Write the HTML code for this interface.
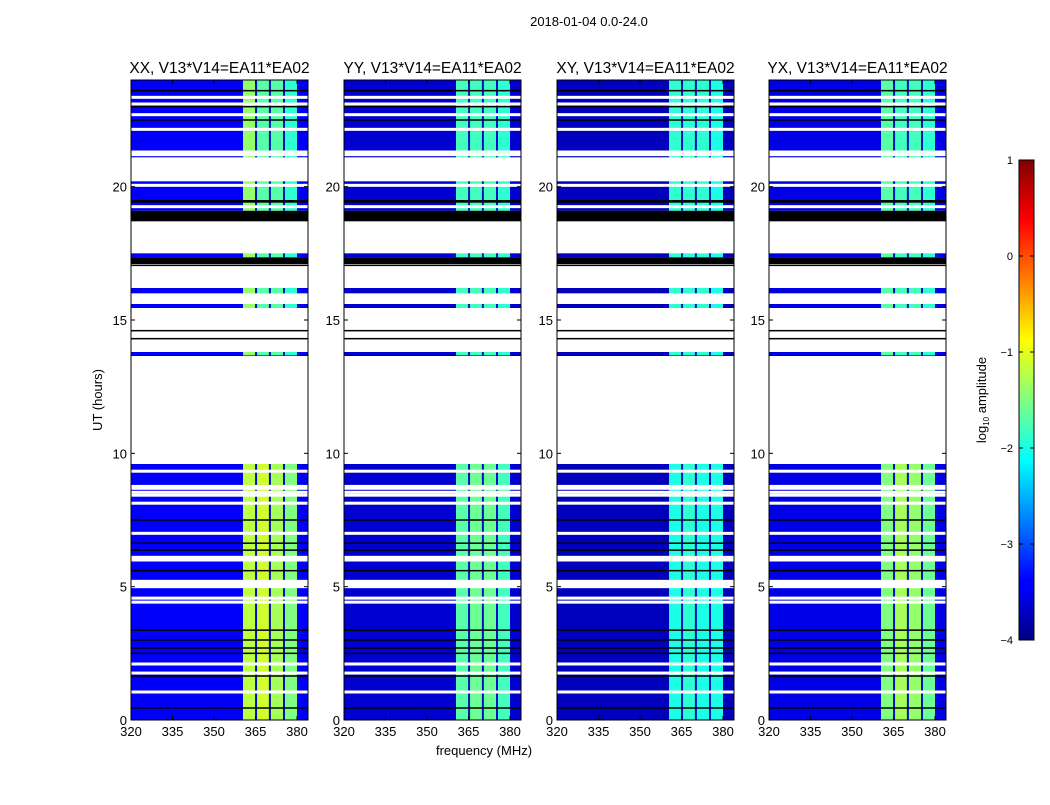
<!DOCTYPE html>
<html><head><meta charset="utf-8"><style>
body{margin:0;background:#fff;}
svg text{font-family:"Liberation Sans",sans-serif;fill:#000;}
</style></head><body>
<svg id="fig" width="1050" height="800" xmlns="http://www.w3.org/2000/svg">
<defs>
<linearGradient id="jet" x1="0" y1="1" x2="0" y2="0">
<stop offset="0" stop-color="#000080"/><stop offset="0.11" stop-color="#0000ff"/>
<stop offset="0.125" stop-color="#0000ff"/><stop offset="0.375" stop-color="#00ffff"/>
<stop offset="0.625" stop-color="#ffff00"/><stop offset="0.875" stop-color="#ff0000"/>
<stop offset="1" stop-color="#800000"/></linearGradient>
</defs>
<text x="589" y="26" font-size="13" text-anchor="middle">2018-01-04 0.0-24.0</text>
<text x="484" y="755" font-size="13" text-anchor="middle">frequency (MHz)</text>
<text transform="translate(102,400) rotate(-90)" font-size="13" text-anchor="middle">UT (hours)</text>
<g id="panels"></g>
<g>
<rect x="1019" y="160" width="15" height="480" fill="url(#jet)" stroke="#000" stroke-width="1"/>
<g id="cbticks"></g>
<text transform="translate(986,400) rotate(-90)" font-size="13" text-anchor="middle">log<tspan font-size="8" dy="3">10</tspan><tspan dy="-3"> amplitude</tspan></text>
</g>
</svg>
<script>
const panelTitles=["XX, V13*V14=EA11*EA02","YY, V13*V14=EA11*EA02","XY, V13*V14=EA11*EA02","YX, V13*V14=EA11*EA02"];
const panelLeft=[131,344,557,769];
const xTicks=[320,335,350,365,380];
const yTicks=[0,5,10,15,20];
const cbTicks=[1,0,-1,-2,-3,-4];
const timeBlocks=[[0,9.6,"d"],[13.65,13.8,"k"],[13.67,13.8,"d"],[15.45,15.6,"d"],[16.0,16.2,"d"],[17.35,17.5,"d"],[17.1,17.35,"k"],[18.7,19.1,"k"],[19.1,20.2,"d"],[19.4,19.5,"k"],[21.1,24,"d"]];
const whiteLines=[9.33,8.76,8.69,8.54,8.43,8.13,7.0,6.1,6.0,5.2,5.1,5.0,4.57,4.42,2.1,1.76,1.05,19.25,20.05,23.35,23.1,22.7,22.15,21.3,21.2];
const blackLines=[7.5,6.63,6.37,5.6,3.37,3.0,2.7,2.5,1.65,0.45,14.6,14.3,17.2,17.05,23.6,23.0,22.5];
const segEdges=[320,360.5,365.2,370.2,375.3,380,384];
const levelsLow=[[-3.4,-1.2,-1.1,-1.3,-1.5,-3.4],[-3.6,-1.7,-1.6,-1.6,-1.8,-3.6],[-3.7,-2.0,-1.9,-2.0,-2.0,-3.7],[-3.5,-1.5,-1.3,-1.4,-1.6,-3.5]];
const levelsHigh=[[-3.4,-1.4,-1.7,-1.7,-1.9,-3.4],[-3.6,-1.8,-1.8,-1.8,-1.9,-3.6],[-3.7,-1.9,-1.9,-1.9,-2.0,-3.7],[-3.5,-1.7,-1.8,-1.8,-1.9,-3.5]];

const NS="http://www.w3.org/2000/svg";
const yTop=80,yBot=720,pw=177;
const yS=h=>yBot-h*(yBot-yTop)/24;
const xS=(f,x0)=>x0+(f-320)*166/60;
function jet(v){let t=(v+4)/5;t=Math.max(0,Math.min(1,t));
 const c=x=>Math.round(255*Math.max(0,Math.min(1,1.5-Math.abs(4*t-x))));
 return `rgb(${c(3)},${c(2)},${c(1)})`;}
function mk(tag,attrs,parent){const e=document.createElementNS(NS,tag);for(const k in attrs)e.setAttribute(k,attrs[k]);parent.appendChild(e);return e;}
const P=document.getElementById("panels");
panelLeft.forEach((x0,pi)=>{
 const g=mk("g",{},P);
 
 
 const clip=mk("clipPath",{id:"c"+pi},g);mk("rect",{x:x0,y:yTop,width:pw,height:yBot-yTop},clip);
 const img=mk("g",{"clip-path":`url(#c${pi})`},g);
 timeBlocks.forEach(b=>{
  const y1=yS(b[1]),y2=yS(b[0]);
  if(b[2]==="k"){const r=mk("rect",{x:x0,y:y1,width:pw,height:y2-y1,fill:"#000"},img);
   
   return;}
  const lv=b[0]>12?levelsHigh[pi]:levelsLow[pi];
  for(let s=0;s<segEdges.length-1;s++){
   const xa=xS(segEdges[s],x0),xb=xS(segEdges[s+1],x0);
   const r=mk("rect",{x:xa,y:y1,width:xb-xa,height:y2-y1,fill:jet(lv[s])},img);
   
   
  }
  [365.2,370.2,375.3].forEach(f=>{mk("rect",{x:xS(f,x0)-1,y:y1,width:2,height:y2-y1,fill:"#0010c0"},img);});
 });
 whiteLines.forEach(h=>{const r=mk("rect",{x:x0,y:yS(h)-1.5,width:pw,height:3,fill:"#fff"},img);
  
  });
 blackLines.forEach(h=>{const r=mk("rect",{x:x0,y:yS(h)-0.75,width:pw,height:1.5,fill:"#000"},img);
  
  });
 const fr=mk("rect",{x:x0,y:yTop,width:pw,height:yBot-yTop,fill:"none",stroke:"#000","stroke-width":1},g);
 
 
 const t=mk("text",{x:x0+pw/2,y:73,"font-size":15.5,"text-anchor":"middle"},g);t.textContent=panelTitles[pi];
 
 
 xTicks.forEach(f=>{const x=xS(f,x0);mk("line",{x1:x,x2:x,y1:yBot,y2:yBot-4,stroke:"#000"},g);mk("line",{x1:x,x2:x,y1:yTop,y2:yTop+4,stroke:"#000"},g);
  const l=mk("text",{x:x,y:yBot+16,"font-size":13,"text-anchor":"middle"},g);l.textContent=f;
  
  });
 yTicks.forEach(h=>{const y=yS(h);mk("line",{x1:x0,x2:x0+4,y1:y,y2:y,stroke:"#000"},g);mk("line",{x1:x0+pw,x2:x0+pw-4,y1:y,y2:y,stroke:"#000"},g);
  const l=mk("text",{x:x0-4,y:y+5,"font-size":13,"text-anchor":"end"},g);l.textContent=h;
  
  });
});
const CB=document.getElementById("cbticks");
cbTicks.forEach(v=>{const y=640-(v+4)*96;
 mk("line",{x1:1019,x2:1023,y1:y,y2:y,stroke:"#000"},CB);mk("line",{x1:1030,x2:1034,y1:y,y2:y,stroke:"#000"},CB);
 const l=mk("text",{x:1013,y:y+4,"font-size":11,"text-anchor":"end"},CB);l.textContent=v<0?"\u2212"+(-v):v;
 
 });
</script>
</body></html>
